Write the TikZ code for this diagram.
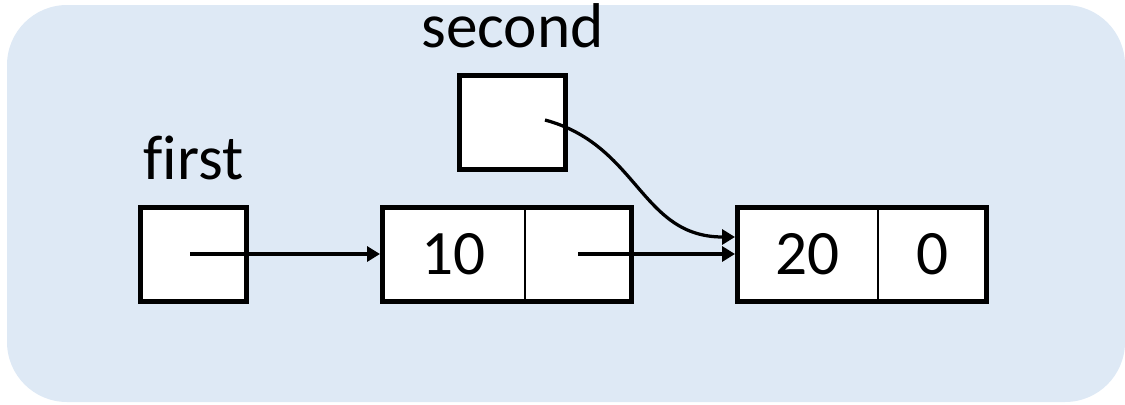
\documentclass[tikz,border=0pt]{standalone}
\usepackage{fontspec}
\setmainfont[Ligatures=NoCommon]{Carlito}
\usetikzlibrary{positioning, arrows.meta}
\definecolor{bgblue}{RGB}{222,233,245}

\begin{document}
\begin{tikzpicture}[
    box/.style={draw, line width=0.1cm, fill=white, minimum width=2.12cm, minimum height=1.88cm, inner sep=0pt},
    cell/.style={draw, line width=0.03cm, fill=white, minimum height=1.88cm, inner sep=0pt, outer sep=0pt},
    frame/.style={line width=0.1cm},
    link/.style={-{Triangle[length=0.26cm, width=0.3cm]}, line width=0.065cm, shorten >=0.05cm},
    font=\fontsize{36}{42}\selectfont]
    \useasboundingbox (0,0) rectangle (22.5,-8.08);
    \fill[bgblue, rounded corners=1.2cm] (0.14,-0.1) rectangle (22.5,-8.04);

    % pointer variables
    \node[box] (first) at (3.87,-5.08) {};
    \node[box] (second) at (10.25,-2.44) {};
    \node[above=0.36cm of first] (firstlbl) {first};
    \node[above=0.36cm of second] (secondlbl) {second};

    % list cells
    \node[cell, minimum width=2.85cm] (v1) at (9.075,-5.08) {10};
    \node[cell, minimum width=2.13cm, right=0pt of v1] (p1) {};
    \node[cell, minimum width=2.81cm, right=2.12cm of p1] (v2) {20};
    \node[cell, minimum width=2.17cm, right=0pt of v2] (p2) {0};
    \draw[frame] (v1.north west) rectangle (p1.south east);
    \draw[frame] (v2.north west) rectangle (p2.south east);

    \coordinate (s2) at ([xshift=0.65cm, yshift=0.04cm]second.center);
    \draw[link] ([xshift=-0.07cm]first.center) -- (v1.west);
    \draw[link] (p1.center) -- (v2.west);
    \draw[link] (s2) to[out=-15, in=180, looseness=1.1] ([yshift=0.34cm]v2.west);
\end{tikzpicture}
\end{document}
